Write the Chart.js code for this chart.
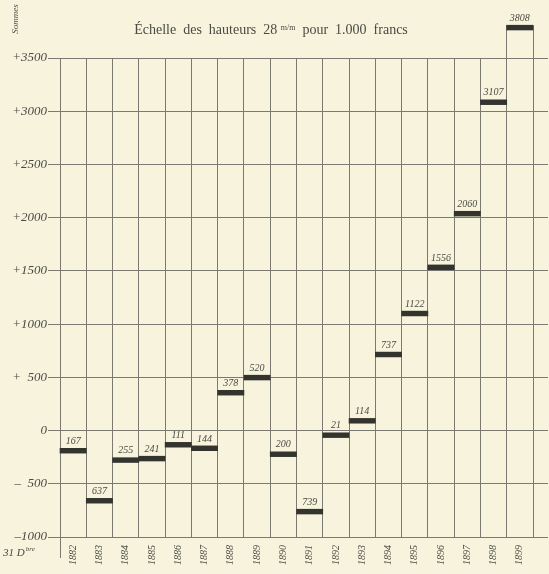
<!DOCTYPE html>
<html>
<head>
<meta charset="utf-8">
<script src="https://cdn.jsdelivr.net/npm/chart.js@4/dist/chart.umd.min.js"></script>
<style>
  html, body { margin: 0; padding: 0; background: #f7f3dc; }
  #wrap { width: 549px; height: 574px; }
</style>
</head>
<body>
<div id="wrap"><canvas id="chart"></canvas></div>
<script>
var years = ['1882', '1883', '1884', '1885', '1886', '1887', '1888', '1889', '1890',
             '1891', '1892', '1893', '1894', '1895', '1896', '1897', '1898', '1899'];
var sommes = [-167, -637, -255, -241, -111, -144, 378, 520, -200,
              -739, -21, 114, 737, 1122, 1556, 2060, 3107, 3808];
var valueLabels = ['167', '637', '255', '241', '111', '144', '378', '520', '200',
                   '739', '21', '114', '737', '1122', '1556', '2060', '3107', '3808'];

var paper = '#f7f3dc';
var ink = '#4a4a44';
var gridColor = '#7a7a72';
var barThick = 45; // thickness of each bar in francs

// same snapping as chart.js uses for 1px lines
function snap(p) { return Math.round(p - 0.5) + 0.5; }

var extras = {
  id: 'extras',
  beforeDraw: function (chart) {
    var ctx = chart.ctx;
    ctx.save();
    ctx.fillStyle = paper;
    ctx.fillRect(0, 0, chart.width, chart.height);
    ctx.restore();
  },
  beforeDatasetsDraw: function (chart) {
    var ctx = chart.ctx, a = chart.chartArea;
    var x = chart.scales.x, y = chart.scales.y;
    ctx.save();
    ctx.strokeStyle = gridColor;
    ctx.lineWidth = 1;
    // horizontal rules run on past the last column
    y.ticks.forEach(function (t) {
      var py = snap(y.getPixelForValue(t.value));
      ctx.beginPath();
      ctx.moveTo(a.right, py);
      ctx.lineTo(chart.width - 1, py);
      ctx.stroke();
    });
    // first vertical rule drops below the axis
    ctx.beginPath();
    ctx.moveTo(snap(a.left), a.bottom);
    ctx.lineTo(snap(a.left), a.bottom + 21);
    ctx.stroke();
    // last column rises to its bar
    var last = years.length - 1;
    var w = x.getPixelForValue(1) - x.getPixelForValue(0);
    var cx = x.getPixelForValue(last);
    var top = y.getPixelForValue(sommes[last]);
    [cx - w / 2, cx + w / 2].forEach(function (px) {
      px = snap(px);
      ctx.beginPath();
      ctx.moveTo(px, a.top);
      ctx.lineTo(px, top);
      ctx.stroke();
    });
    ctx.restore();
  },
  afterDraw: function (chart) {
    var ctx = chart.ctx;
    var x = chart.scales.x, y = chart.scales.y;
    ctx.save();
    ctx.fillStyle = ink;

    // values above bars
    ctx.font = 'italic 10px "Liberation Serif"';
    ctx.textAlign = 'center';
    ctx.textBaseline = 'bottom';
    sommes.forEach(function (v, i) {
      ctx.fillText(valueLabels[i], x.getPixelForValue(i), y.getPixelForValue(v) - 2);
    });

    // title with small m/m
    var parts = [
      ['Échelle  des  hauteurs  28 ', '14px "Liberation Serif"', 0],
      ['m/m', '8px "Liberation Serif"', -4],
      ['  pour  1.000  francs', '14px "Liberation Serif"', 0]
    ];
    var total = 0;
    parts.forEach(function (p) { ctx.font = p[1]; total += ctx.measureText(p[0]).width; });
    var tx = 271 - total / 2;
    ctx.textAlign = 'left';
    ctx.textBaseline = 'alphabetic';
    parts.forEach(function (p) {
      ctx.font = p[1];
      ctx.fillText(p[0], tx, 34 + p[2]);
      tx += ctx.measureText(p[0]).width;
    });

    // Sommes, written upward
    ctx.save();
    ctx.translate(18, 19);
    ctx.rotate(-Math.PI / 2);
    ctx.font = 'italic 9px "Liberation Serif"';
    ctx.textAlign = 'center';
    ctx.fillText('Sommes', 0, 0);
    ctx.restore();

    // 31 Dbre
    ctx.font = 'italic 11px "Liberation Serif"';
    ctx.textAlign = 'left';
    ctx.fillText('31 D', 3, 556);
    var dw = ctx.measureText('31 D').width;
    ctx.font = 'italic 7px "Liberation Serif"';
    ctx.fillText('bre', 3 + dw + 1, 551);
    ctx.restore();
  }
};

new Chart('chart', {
  type: 'bar',
  data: {
    labels: years,
    datasets: [{
      data: sommes.map(function (v) { return [v - barThick, v]; }),
      backgroundColor: '#34342f',
      borderWidth: 0,
      barPercentage: 1,
      categoryPercentage: 1,
      clip: false
    }]
  },
  options: {
    responsive: true,
    maintainAspectRatio: false,
    animation: false,
    layout: { padding: { top: 58, right: 16, left: 0, bottom: 0 } },
    plugins: {
      legend: { display: false },
      title: { display: false },
      tooltip: { enabled: false }
    },
    scales: {
      x: {
        offset: true,
        afterFit: function (s) { s.height = 37; },
        grid: { color: gridColor, offset: true, drawTicks: false, tickLength: 0 },
        border: { color: gridColor },
        ticks: {
          color: ink,
          minRotation: 90,
          maxRotation: 90,
          padding: 8,
          font: { family: 'Liberation Serif', style: 'italic', size: 10 }
        }
      },
      y: {
        min: -1000,
        max: 3500,
        afterFit: function (s) { s.width = 60; },
        grid: { color: gridColor, tickLength: 12 },
        border: { color: gridColor },
        ticks: {
          stepSize: 500,
          color: ink,
          padding: 1,
          font: { family: 'Liberation Serif', style: 'italic', size: 13 },
          callback: function (v) {
            if (v > 0) return (v < 1000 ? '+  ' : '+') + v;
            if (v < 0) return (v > -1000 ? '–  ' : '–') + (-v);
            return '0';
          }
        }
      }
    }
  },
  plugins: [extras]
});
</script>
</body>
</html>
